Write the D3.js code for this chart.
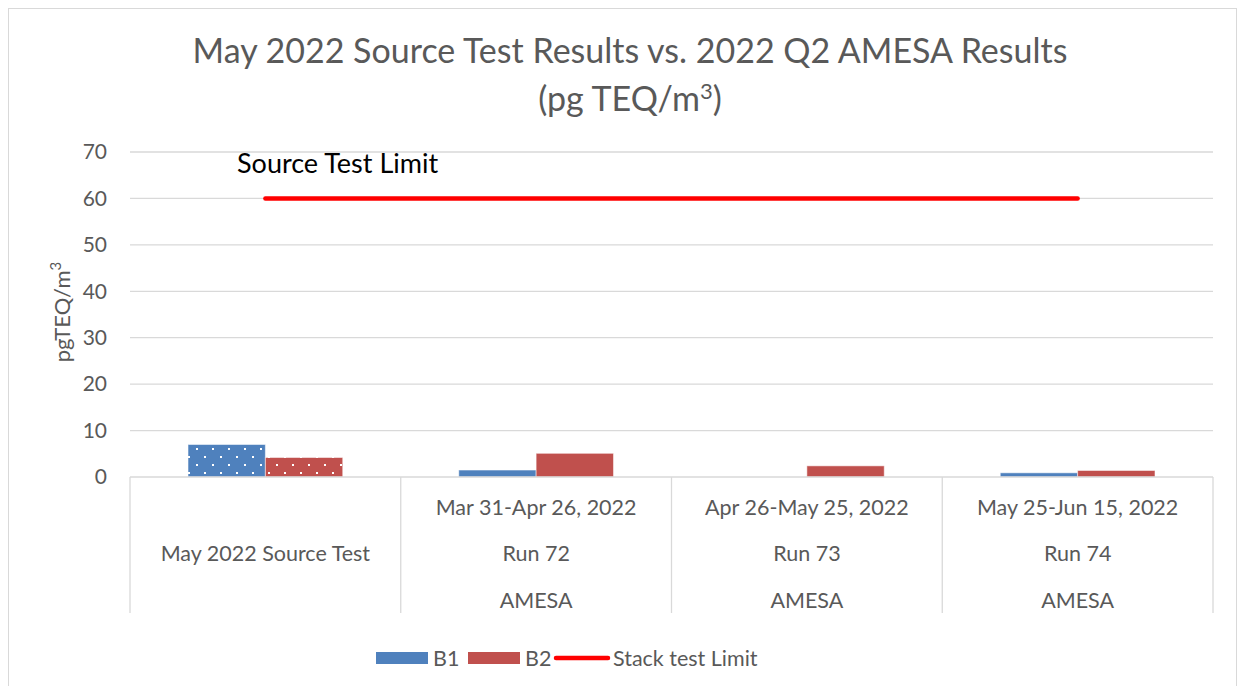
<!DOCTYPE html>
<html><head><meta charset="utf-8">
<script src="https://cdn.jsdelivr.net/npm/d3@7"></script>
<style>body{margin:0;background:#fff;} svg{display:block;} text{font-family:Lato,"Open Sans",sans-serif;}</style>
</head><body>
<svg id="c" width="1244" height="686"></svg>
<script>
const catLevel1 = ["", "Mar 31-Apr 26, 2022", "Apr 26-May 25, 2022", "May 25-Jun 15, 2022"];
const catLevel2 = ["May 2022 Source Test", "Run 72", "Run 73", "Run 74"];
const catLevel3 = ["", "AMESA", "AMESA", "AMESA"];
const seriesNames = ["B1", "B2"];
const b1Values = [7.0, 1.5, 0, 0.9];
const b2Values = [4.2, 5.1, 2.4, 1.4];
const limitValues = [60, 60, 60, 60];
const patterned = [true, false, false, false];
const yTicks = [0, 10, 20, 30, 40, 50, 60, 70];

(function () {
const colors = {B1: "#4F81BD", B2: "#C0504D"};
const svg = d3.select("#c");
const pLeft = 130, pRight = 1213, pTop = 152, base = 477, axisBottom = 613;

svg.append("rect").attr("x", 8.5).attr("y", 8.5).attr("width", 1228).attr("height", 700)
  .attr("fill", "none").attr("stroke", "#d9d9d9");

const defs = svg.append("defs");
["B1","B2"].forEach(s => {
  const p = defs.append("pattern").attr("id", "dots" + s).attr("patternUnits", "userSpaceOnUse")
    .attr("width", 16).attr("height", 16).attr("x", 0).attr("y", base);
  p.append("rect").attr("width", 16).attr("height", 16).attr("fill", colors[s]);
  p.append("rect").attr("x", 2).attr("y", 3).attr("width", 2).attr("height", 2).attr("fill", "#fff");
  p.append("rect").attr("x", 10).attr("y", 11).attr("width", 2).attr("height", 2).attr("fill", "#fff");
});

const x0 = d3.scaleBand().domain(d3.range(catLevel2.length)).range([pLeft, pRight]).padding(0);
const bw = x0.bandwidth();
const barW = bw / 3.5;
const x1 = d3.scaleBand().domain(seriesNames).range([barW * 0.75, bw - barW * 0.75]).padding(0);
const y = d3.scaleLinear().domain([0, 70]).range([base, pTop]);

svg.append("g").selectAll("line").data(yTicks.filter(d => d > 0)).join("line")
  .attr("x1", pLeft).attr("x2", pRight).attr("y1", d => y(d)).attr("y2", d => y(d))
  .attr("stroke", "#d9d9d9").attr("stroke-width", 1.3);

const yAxis = d3.axisLeft(y).tickValues(yTicks).tickSize(0).tickPadding(0);
const gy = svg.append("g").attr("transform", `translate(107,0)`).call(yAxis);
gy.select(".domain").remove();
gy.selectAll("text").attr("font-size", 21).attr("fill", "#595959").attr("font-family", "Lato");

const data = catLevel2.map((c, i) => ({i, B1: b1Values[i], B2: b2Values[i]}));
const groups = svg.append("g").selectAll("g").data(data).join("g")
  .attr("transform", d => `translate(${x0(d.i)},0)`);
groups.selectAll("rect").data(d => seriesNames.map(s => ({s, v: d[s], i: d.i}))).join("rect")
  .attr("x", d => x1(d.s)).attr("width", x1.bandwidth())
  .attr("y", d => y(d.v)).attr("height", d => base - y(d.v))
  .attr("fill", d => patterned[d.i] ? `url(#dots${d.s})` : colors[d.s])
  .attr("stroke", d => d.v > 0 ? "rgba(255,255,255,0.5)" : "none").attr("stroke-width", 1);

svg.append("line").attr("x1", pLeft).attr("x2", pRight).attr("y1", base).attr("y2", base)
  .attr("stroke", "#d9d9d9").attr("stroke-width", 1.3);
const bounds = d3.range(catLevel2.length + 1).map(i => i < catLevel2.length ? x0(i) : pRight);
svg.append("g").selectAll("line").data(bounds).join("line")
  .attr("x1", d => d).attr("x2", d => d).attr("y1", base).attr("y2", axisBottom)
  .attr("stroke", "#d9d9d9").attr("stroke-width", 1.3);

const lab = svg.append("g").attr("font-size", 21.5).attr("fill", "#595959").attr("text-anchor", "middle");
[[catLevel1, 515], [catLevel2, 561], [catLevel3, 608]].forEach(([arr, yy]) => {
  lab.append("g").selectAll("text").data(arr).join("text")
    .attr("x", (d, i) => x0(i) + bw / 2).attr("y", yy).text(d => d);
});

const line = d3.line().x((d, i) => x0(i) + bw / 2).y(d => y(d));
svg.append("path").datum(limitValues).attr("d", line).attr("fill", "none")
  .attr("stroke", "#FF0000").attr("stroke-width", 4.5).attr("stroke-linecap", "round");
svg.append("text").attr("x", 237).attr("y", 173).attr("font-size", 27).attr("fill", "#000")
  .text("Source Test Limit");

const t = svg.append("text").attr("text-anchor", "middle").attr("fill", "#595959").attr("font-size", 34);
t.append("tspan").attr("x", 630).attr("y", 63).text("May 2022 Source Test Results vs. 2022 Q2 AMESA Results");
const t2 = t.append("tspan").attr("x", 630).attr("y", 111);
t2.append("tspan").text("(pg TEQ/m");
t2.append("tspan").attr("font-size", 22).attr("dy", -12).text("3");
t2.append("tspan").attr("dy", 12).text(")");

const yt = svg.append("text").attr("transform", "translate(70,312) rotate(-90)")
  .attr("text-anchor", "middle").attr("fill", "#595959").attr("font-size", 22);
yt.append("tspan").text("pgTEQ/m");
yt.append("tspan").attr("font-size", 15).attr("dy", -9).text("3");

const lg = svg.append("g").attr("font-size", 21.5).attr("fill", "#595959");
const legItems = [
  {type: "rect", c: colors.B1, label: "B1", x: 376},
  {type: "rect", c: colors.B2, label: "B2", x: 468},
  {type: "line", c: "#FF0000", label: "Stack test Limit", x: 556}
];
legItems.forEach(d => {
  if (d.type === "rect") lg.append("rect").attr("x", d.x).attr("y", 652).attr("width", 52).attr("height", 12).attr("fill", d.c);
  else lg.append("line").attr("x1", d.x).attr("x2", d.x + 52).attr("y1", 658).attr("y2", 658)
    .attr("stroke", d.c).attr("stroke-width", 4.5).attr("stroke-linecap", "round");
  lg.append("text").attr("x", d.x + 57).attr("y", 666).text(d.label);
});
})();
</script>
</body></html>
